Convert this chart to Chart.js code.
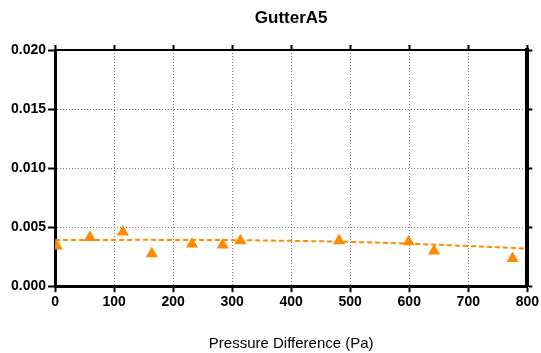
<!DOCTYPE html>
<html>
<head>
<meta charset="utf-8">
<script src="https://cdn.jsdelivr.net/npm/chart.js@4/dist/chart.umd.min.js"></script>
<style>
  html, body { margin: 0; padding: 0; background: #fff; }
  #wrap { width: 541px; height: 353px; }
</style>
</head>
<body>
<div id="wrap"><canvas id="grafica"></canvas></div>
<script>
// puntos medidos (Pa, valor)
const presion = [3, 59, 115, 164, 232, 284, 314, 481, 599, 642, 775];
const valores = [0.0034, 0.00413, 0.00458, 0.00275, 0.00357, 0.00348, 0.00385, 0.00385, 0.00376, 0.00297, 0.00235];

// curva de ajuste
const ajusteX = [0, 100, 200, 300, 400, 500, 600, 700, 800];
const ajusteY = [0.00390, 0.00392, 0.00392, 0.00390, 0.00384, 0.00375, 0.00360, 0.00340, 0.00319];

const titulo = 'GutterA5';
const tituloX = 'Pressure Difference (Pa)';
const naranja = '#ff8a00';

const tituloPlugin = {
    id: 'tituloCentrado',
    afterDraw(chart) {
        const { ctx, chartArea } = chart;
        ctx.save();
        ctx.font = 'bold 17px "Liberation Sans", Arial, sans-serif';
        ctx.fillStyle = '#000';
        ctx.textAlign = 'center';
        ctx.textBaseline = 'middle';
        ctx.fillText(titulo, (chartArea.left + chartArea.right) / 2, 18);
        ctx.restore();
    }
};

const fuenteTicks = { family: '"Liberation Sans", Arial, sans-serif', size: 14, weight: 'bold' };

new Chart(document.getElementById('grafica').getContext('2d'), {
    type: 'scatter',
    data: {
        datasets: [{
            label: 'GutterA5',
            data: presion.map((p, i) => ({ x: p, y: valores[i] })),
            pointStyle: 'triangle',
            pointRadius: 5.5,
            pointBackgroundColor: naranja,
            pointBorderColor: naranja,
            pointBorderWidth: 1.5,
            showLine: false,
            order: 1
        }, {
            label: 'ajuste',
            data: ajusteX.map((p, i) => ({ x: p, y: ajusteY[i] })),
            showLine: true,
            borderColor: naranja,
            borderWidth: 2,
            borderDash: [5, 3],
            pointRadius: 0,
            tension: 0.4,
            order: 2
        }]
    },
    options: {
        responsive: true,
        maintainAspectRatio: false,
        animation: false,
        layout: { padding: { top: 45, right: 8, left: 9, bottom: 0 } },
        plugins: { legend: { display: false }, tooltip: { enabled: false } },
        scales: {
            x: {
                type: 'linear', position: 'bottom', min: 0, max: 800,
                ticks: { stepSize: 100, color: '#000', font: fuenteTicks, padding: 2 },
                grid: { color: '#7a7a7a', lineWidth: 1, tickLength: 6, tickColor: '#000', tickWidth: 2, tickBorderDash: [] },
                border: { display: true, color: '#000', width: 3, dash: [1, 2] },
                title: { display: true, text: tituloX, color: '#000',
                    font: { family: '"Liberation Sans", Arial, sans-serif', size: 15 }, padding: { top: 22, bottom: 0 } }
            },
            y: {
                type: 'linear', position: 'left', min: 0, max: 0.02,
                ticks: { stepSize: 0.005, color: '#000', font: fuenteTicks, padding: 2,
                    callback: v => v.toFixed(3) },
                grid: { color: '#7a7a7a', lineWidth: 1, tickLength: 7, tickColor: '#000', tickWidth: 2, tickBorderDash: [] },
                border: { display: true, color: '#000', width: 3, dash: [1, 2] }
            },
            x2: {
                type: 'linear', position: 'top', min: 0, max: 800,
                ticks: { display: false, stepSize: 100 },
                grid: { drawOnChartArea: false, tickLength: 5, tickColor: '#000', tickWidth: 2 },
                border: { display: true, color: '#000', width: 2 }
            },
            y2: {
                type: 'linear', position: 'right', min: 0, max: 0.02,
                ticks: { display: false, stepSize: 0.005 },
                grid: { drawOnChartArea: false, tickLength: 5, tickColor: '#000', tickWidth: 2 },
                border: { display: true, color: '#000', width: 4 }
            }
        }
    },
    plugins: [tituloPlugin]
});
</script>
</body>
</html>
